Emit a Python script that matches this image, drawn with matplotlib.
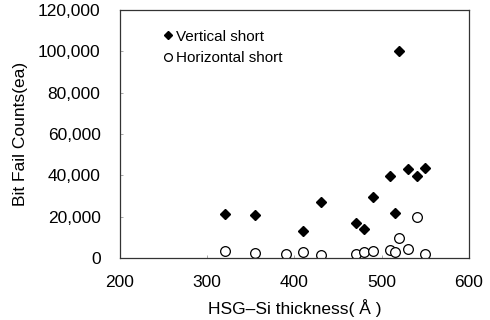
import numpy as np
import matplotlib.pyplot as plt

plt.rcParams['font.family'] = ['Liberation Sans', 'DejaVu Sans']

# Vertical short data
vert_x = [320, 355, 410, 430, 470, 480, 490, 510, 515, 520, 530, 540, 550]
vert_y = [21300, 20800, 12800, 26900, 16800, 13900, 29600, 39700, 21900, 100000, 42900, 39600, 43600]

# Horizontal short data
horiz_x = [320, 355, 390, 410, 430, 470, 480, 490, 510, 515, 520, 530, 540, 550]
horiz_y = [3200, 2400, 2000, 2900, 1400, 2000, 2900, 3200, 3600, 3100, 9800, 4300, 19900, 1800]

x_ticks = [200, 300, 400, 500, 600]
y_ticks = [0, 20000, 40000, 60000, 80000, 100000, 120000]

fig = plt.figure(figsize=(4.9, 3.2), dpi=100)
ax = fig.add_axes([0.245, 0.194, 0.712, 0.775])

ax.plot(vert_x, vert_y, 'D', color='black', markersize=5, label='Vertical short')
ax.plot(horiz_x, horiz_y, 'o', markerfacecolor='white', markeredgecolor='black',
        markeredgewidth=0.9, markersize=7, label='Horizontal short')

ax.set_xlim(200, 600)
ax.set_ylim(0, 120000)
ax.set_xticks(x_ticks)
ax.set_yticks(y_ticks)
ax.set_yticklabels(['{:,}'.format(v) for v in y_ticks])
ax.tick_params(direction='in', length=2, width=0.6, color='#999999', labelsize=12.5)
ax.tick_params(axis='y', pad=14)
ax.tick_params(axis='x', pad=12)
for s in ax.spines.values():
    s.set_color('#333333')
    s.set_linewidth(0.9)

ax.set_xlabel('HSG\u2013Si thickness( Å )', fontsize=12.5, labelpad=7)
ax.set_ylabel('Bit Fail Counts(ea)', fontsize=12.5, labelpad=7)

ax.legend(loc='upper left', bbox_to_anchor=(0.1, 0.945), frameon=False, fontsize=11,
          handletextpad=0.1, handlelength=0.9, labelspacing=0.5, borderaxespad=0,
          markerscale=0.8)

fig.savefig('out.png', dpi=100)
